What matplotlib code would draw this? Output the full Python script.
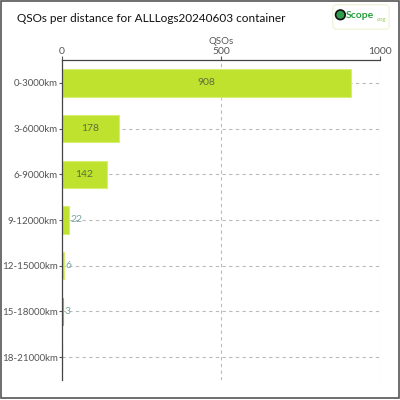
import matplotlib
matplotlib.use('Agg')
import matplotlib.pyplot as plt
from matplotlib.patches import Rectangle, FancyBboxPatch, Circle

plt.rcParams['font.family'] = ['Lato', 'DejaVu Sans']

categories = ['0-3000km', '3-6000km', '6-9000km', '9-12000km',
              '12-15000km', '15-18000km', '18-21000km']
qsos = [908, 178, 142, 22, 6, 3, 1]
labels = ['908', '178', '142', '22', '6', '3', '']
xticks = [0, 500, 1000]

fig = plt.figure(figsize=(4, 4), dpi=100)
ax = fig.add_axes([0.155, 0.05, 0.795, 0.80])

ypos = range(len(categories))
for y in ypos:
    ax.axhline(y, color='#bbbbbb', lw=0.8, ls=(0, (3, 3)), zorder=0)
for x in xticks[1:]:
    ax.axvline(x, color='#bbbbbb', lw=0.8, ls=(0, (3, 3)), zorder=0)

bars = ax.barh(ypos, qsos, height=0.6, color='#bfe22f', edgecolor='#d6ef70',
               lw=0.8, zorder=2)
bars[-2].set_color('#9cc224')
bars[-1].set_color('#8aa820')

for y, v, lab in zip(ypos, qsos, labels):
    if not lab:
        continue
    if v > 100:
        ax.text(v / 2, y, lab, ha='center', va='center', fontsize=7.5,
                color='#5b6f3c', zorder=3)
    else:
        ax.text(v + 4, y, lab, ha='left', va='center', fontsize=7.5,
                color='#7aa3a3', zorder=3)

ax.set_xlim(0, 1000)
ax.set_ylim(len(categories) - 0.5, -0.5)
ax.set_yticks(list(ypos))
ax.set_yticklabels(categories)
ax.set_xticks(xticks)
ax.xaxis.tick_top()
ax.xaxis.set_label_position('top')
ax.set_xlabel('QSOs', fontsize=7, color='#555555', labelpad=2)
ax.tick_params(axis='x', colors='#555555', labelsize=7.5, length=3, pad=0)
ax.tick_params(axis='y', colors='#555555', labelsize=7, length=2, pad=1)
for s in ['right', 'bottom']:
    ax.spines[s].set_visible(False)
for s in ['left', 'top']:
    ax.spines[s].set_color('#444444')
    ax.spines[s].set_linewidth(0.9)

fig.text(0.042, 0.955, 'QSOs per distance for ALLLogs20240603 container',
         fontsize=8.5, color='#111111', va='center', ha='left')

# logo
fig.patches.append(FancyBboxPatch((0.835, 0.93), 0.135, 0.055,
                                  boxstyle='round,pad=0.003,rounding_size=0.01',
                                  transform=fig.transFigure, fc='white',
                                  ec='#eef3d0', lw=0.8))
fig.patches.append(Circle((0.851, 0.963), 0.012, transform=fig.transFigure,
                          fc='#2f9e4a', ec='#111111', lw=1.2))
fig.text(0.865, 0.962, 'Scope', fontsize=7.5, color='#27a23c',
         fontweight='bold', va='center', ha='left')
fig.text(0.965, 0.950, '.org', fontsize=4, color='#8cc63f', va='center',
         ha='right')

fig.patches.append(Rectangle((0.002, 0.004), 0.995, 0.993,
                             transform=fig.transFigure, fill=False,
                             ec='#555555', lw=1.2))

fig.savefig('out.png', dpi=100)
